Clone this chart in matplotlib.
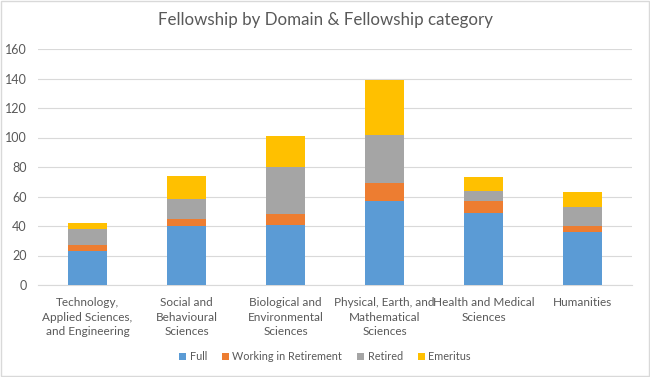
import matplotlib.pyplot as plt
import numpy as np

plt.rcParams['font.family'] = ['Lato', 'DejaVu Sans']

domains = ["Technology,\nApplied Sciences,\nand Engineering",
           "Social and\nBehavioural\nSciences",
           "Biological and\nEnvironmental\nSciences",
           "Physical, Earth, and\nMathematical\nSciences",
           "Health and Medical\nSciences",
           "Humanities"]
full = [23, 40, 41, 57, 49, 36]
working = [4, 5, 7, 12, 8, 4]
retired = [11, 13, 32, 33, 7, 13]
emeritus = [4, 16, 21, 37, 9, 10]

series = [("Full", full, "#5b9bd5"),
          ("Working in Retirement", working, "#ed7d31"),
          ("Retired", retired, "#a5a5a5"),
          ("Emeritus", emeritus, "#ffc000")]

fig = plt.figure(figsize=(6.5, 3.77), dpi=100)
ax = fig.add_axes([38/650, 1-285/377, 594/650, 236/377])

x = np.arange(len(domains))
bottom = np.zeros(len(domains))
for name, vals, col in series:
    ax.bar(x, vals, 0.4, bottom=bottom, color=col, label=name, zorder=3)
    bottom += np.array(vals)

ax.set_ylim(0, 160)
ax.set_yticks(range(0, 161, 20))
ax.set_xlim(-0.5, len(domains) - 0.5)
ax.set_xticks(x)
ax.set_xticklabels(domains, fontsize=8.5, color="#595959", linespacing=1.35)
ax.tick_params(axis='y', labelsize=9, labelcolor="#595959", length=0, pad=8)
ax.tick_params(axis='x', length=0, pad=9)
ax.grid(axis='y', color="#d9d9d9", linewidth=0.8, zorder=0)
for s in ["top", "right", "left"]:
    ax.spines[s].set_visible(False)
ax.spines["bottom"].set_color("#d9d9d9")

fig.text(0.5, 1-20/377, "Fellowship by Domain & Fellowship category",
         ha="center", va="center", fontsize=12.2, color="#595959")
fig.legend(loc="center", bbox_to_anchor=(0.5, 1-357/377), ncol=4, frameon=False,
           fontsize=7.8, labelcolor="#595959", handlelength=0.65, handleheight=0.65,
           columnspacing=1.4, handletextpad=0.3)
fig.patches.append(plt.Rectangle((0.002, 0.003), 0.996, 0.994, transform=fig.transFigure,
                                 fill=False, edgecolor="#d9d9d9", linewidth=1))
fig.savefig("out.png", dpi=100)
